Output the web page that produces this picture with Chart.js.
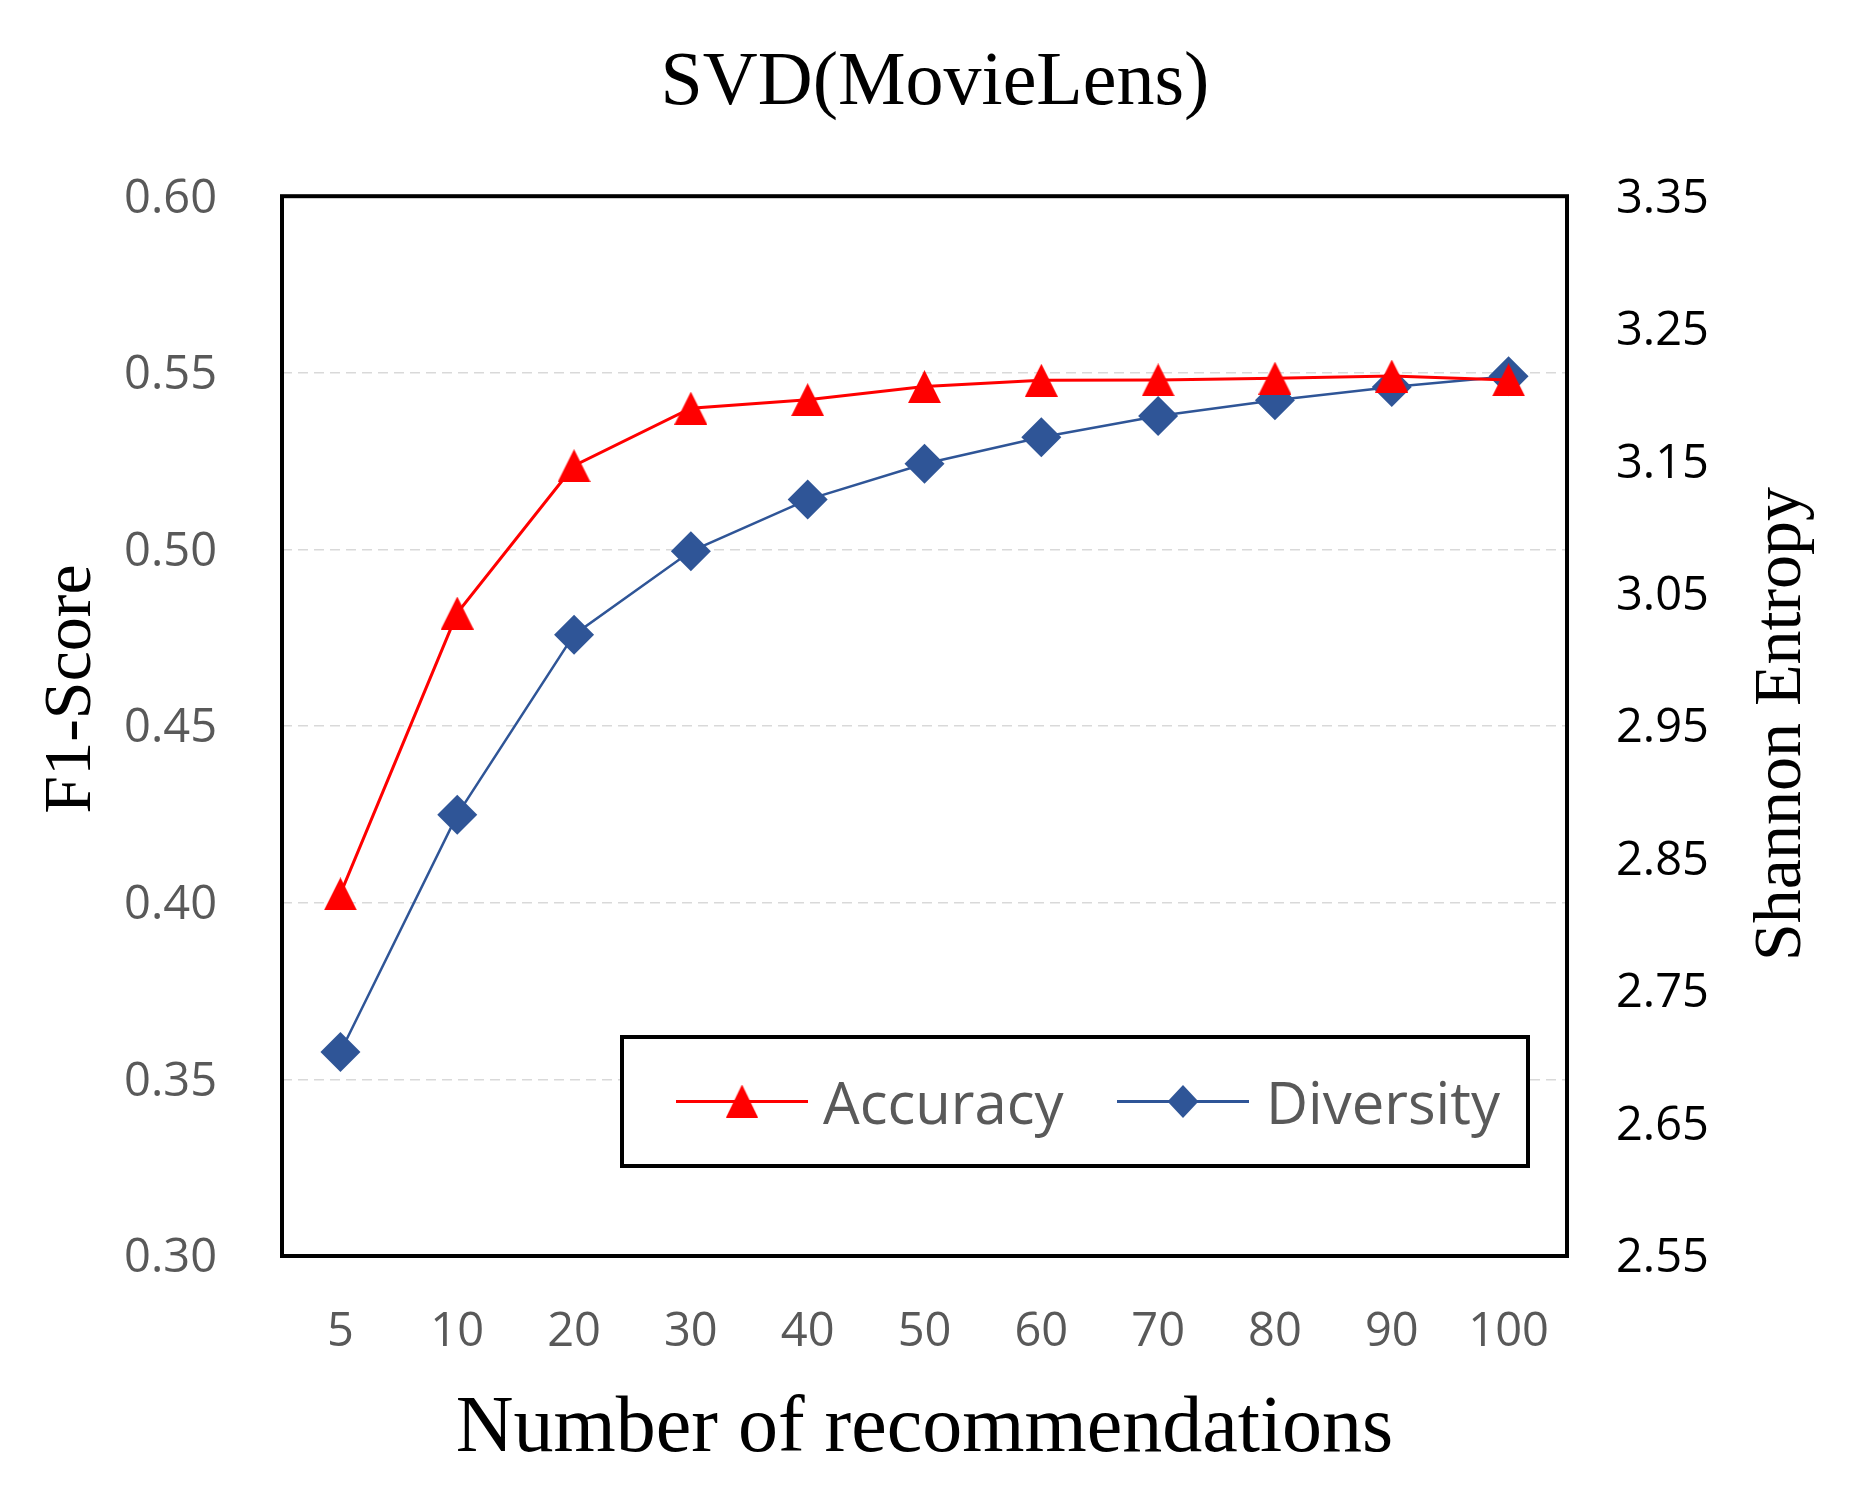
<!DOCTYPE html>
<html>
<head>
<meta charset="utf-8">
<script src="https://cdn.jsdelivr.net/npm/chart.js@4.4.1/dist/chart.umd.min.js"></script>
<style>
  html, body { margin: 0; padding: 0; background: #fff; }
  #wrap { width: 1870px; height: 1507px; }
</style>
</head>
<body>
<div id="wrap"><canvas id="chart" width="1870" height="1507"></canvas></div>
<script>
// SVD(MovieLens): F1 (left axis) vs Shannon entropy (right axis) by list length

const TITLE = 'SVD(MovieLens)'
const X_TITLE = 'Number of recommendations'
const Y_LEFT_TITLE = 'F1-Score'
const Y_RIGHT_TITLE = 'Shannon Entropy'

const categories = ['5', '10', '20', '30', '40', '50', '60', '70', '80', '90', '100']
const accuracy  = [0.4025, 0.482, 0.5237, 0.540, 0.5424, 0.5461, 0.5479, 0.548, 0.5485, 0.5491, 0.548]
const diversity = [2.704, 2.883, 3.019, 3.082, 3.121, 3.148, 3.168, 3.184, 3.196, 3.206, 3.214]

const f1Ticks      = [0.30, 0.35, 0.40, 0.45, 0.50, 0.55, 0.60]
const entropyTicks = [2.55, 2.65, 2.75, 2.85, 2.95, 3.05, 3.15, 3.25, 3.35]

const RED  = '#FF0000'
const BLUE = '#2F5597'
const GRAY = '#595959'
const SERIF = "'Liberation Serif', 'Times New Roman', serif"
const SANS  = "'Open Sans', 'Noto Sans', sans-serif"

function triangleImage(size, color) {
  const c = document.createElement('canvas')
  c.width = size
  c.height = size
  const g = c.getContext('2d')
  g.fillStyle = color
  g.beginPath()
  g.moveTo(size / 2, 0)
  g.lineTo(size, size)
  g.lineTo(0, size)
  g.closePath()
  g.fill()
  return c
}

function diamondPath(ctx, x, y, w, h) {
  ctx.beginPath()
  ctx.moveTo(x, y - h / 2)
  ctx.lineTo(x + w / 2, y)
  ctx.lineTo(x, y + h / 2)
  ctx.lineTo(x - w / 2, y)
  ctx.closePath()
}

const triMarker = triangleImage(33, RED)

// black frame around the plot area
const framePlugin = {
  id: 'frame',
  beforeDatasetsDraw(chart) {
    const { ctx, chartArea: a } = chart
    ctx.save()
    ctx.strokeStyle = '#000'
    ctx.lineWidth = 4
    ctx.strokeRect(a.left, a.top, a.right - a.left, a.bottom - a.top)
    ctx.restore()
  },
}

// both vertical titles read bottom-to-top
const yTitlePlugin = {
  id: 'yTitles',
  afterDraw(chart) {
    const { ctx } = chart
    ctx.save()
    ctx.fillStyle = '#000'
    ctx.font = `68px ${SERIF}`
    ctx.textAlign = 'center'
    ctx.textBaseline = 'alphabetic'
    ;[[90, 689, Y_LEFT_TITLE], [1800, 724, Y_RIGHT_TITLE]].forEach(([x, y, text]) => {
      ctx.save()
      ctx.translate(x, y)
      ctx.rotate(-Math.PI / 2)
      ctx.fillText(text, 0, 0)
      ctx.restore()
    })
    ctx.restore()
  },
}

// boxed legend inside the plot, line + marker per series
const boxLegendPlugin = {
  id: 'boxLegend',
  afterDraw(chart) {
    const { ctx, chartArea: a } = chart
    const right = a.right - 39
    const bottom = a.bottom - 90
    const w = 906, h = 129
    const left = right - w, top = bottom - h
    const cy = top + h / 2

    ctx.save()
    ctx.fillStyle = '#fff'
    ctx.fillRect(left, top, w, h)
    ctx.strokeStyle = '#000'
    ctx.lineWidth = 4
    ctx.strokeRect(left, top, w, h)

    const items = [
      { ds: chart.data.datasets[0], mx: 120, tx: 201 },
      { ds: chart.data.datasets[1], mx: 561, tx: 644 },
    ]
    items.forEach(({ ds, mx, tx }, i) => {
      const x = left + mx
      ctx.strokeStyle = ds.borderColor
      ctx.lineWidth = 3
      ctx.beginPath()
      ctx.moveTo(x - 66, cy)
      ctx.lineTo(x + 66, cy)
      ctx.stroke()
      if (i === 0) {
        ctx.drawImage(triMarker, x - 16, cy - 17, 32, 33)
      } else {
        ctx.fillStyle = ds.backgroundColor
        diamondPath(ctx, x, cy, 31, 33)
        ctx.fill()
      }
      ctx.fillStyle = GRAY
      ctx.font = `58px ${SANS}`
      ctx.textAlign = 'left'
      ctx.textBaseline = 'middle'
      ctx.fillText(ds.label, left + tx, cy + 6)
    })
    ctx.restore()
  },
}

new Chart(document.getElementById('chart'), {
  type: 'line',
  data: {
    labels: categories,
    datasets: [
      {
        label: 'Accuracy',
        data: accuracy,
        yAxisID: 'y',
        borderColor: RED,
        backgroundColor: RED,
        borderWidth: 3,
        tension: 0,
        pointStyle: triMarker,
        pointRadius: 17,
        clip: false,
      },
      {
        label: 'Diversity',
        data: diversity,
        yAxisID: 'y1',
        borderColor: BLUE,
        backgroundColor: BLUE,
        borderWidth: 2.5,
        tension: 0,
        pointStyle: 'rectRot',
        pointRadius: 20,
        pointBorderWidth: 0,
        clip: false,
      },
    ],
  },
  options: {
    responsive: false,
    animation: false,
    devicePixelRatio: 1,
    layout: { padding: 0 },
    plugins: {
      legend: { display: false },
      tooltip: { enabled: false },
      title: {
        display: true,
        text: TITLE,
        color: '#000',
        font: { family: SERIF, size: 76, weight: 'normal', lineHeight: 1.2 },
        padding: { top: 38, bottom: 67 },
      },
    },
    scales: {
      x: {
        offset: true,
        grid: { display: false },
        border: { display: false },
        ticks: {
          color: GRAY,
          font: { family: SANS, size: 47 },
          padding: 40,
          maxRotation: 0,
          autoSkip: false,
        },
        title: {
          display: true,
          text: X_TITLE,
          color: '#000',
          font: { family: SERIF, size: 80, lineHeight: 1.2 },
          padding: { top: 0, bottom: 29 },
        },
        afterFit: s => { s.height = 251 },
      },
      y: {
        position: 'left',
        min: 0.30,
        max: 0.60,
        afterBuildTicks: s => { s.ticks = f1Ticks.map(v => ({ value: v })) },
        ticks: {
          color: GRAY,
          font: { family: SANS, size: 47 },
          padding: 65,
          labelOffset: 3,
          callback: v => Number(v).toFixed(2),
        },
        grid: {
          drawTicks: false,
          lineWidth: 1.5,
          color: c => (c.index === 0 || c.index === f1Ticks.length - 1) ? 'rgba(0,0,0,0)' : '#D9D9D9',
        },
        border: { display: false, dash: [10, 6] },
        afterFit: s => { s.width = 282 },
      },
      y1: {
        position: 'right',
        min: 2.55,
        max: 3.35,
        afterBuildTicks: s => { s.ticks = entropyTicks.map(v => ({ value: v })) },
        ticks: {
          color: '#000',
          font: { family: SANS, size: 47 },
          padding: 49,
          labelOffset: 3,
          callback: v => Number(v).toFixed(2),
        },
        grid: { display: false, drawTicks: false },
        border: { display: false },
        afterFit: s => { s.width = 303 },
      },
    },
  },
  plugins: [framePlugin, boxLegendPlugin, yTitlePlugin],
})
</script>
</body>
</html>
